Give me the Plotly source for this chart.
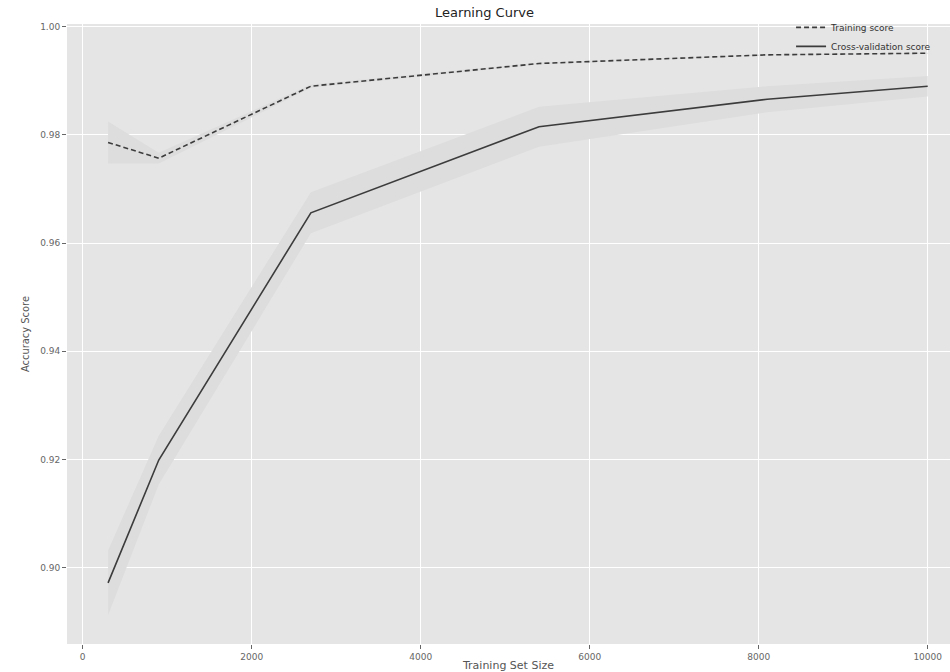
import plotly.graph_objects as go

# ---- data ----
train_sizes = [300, 900, 2700, 5400, 8100, 10000]
train_mean = [0.9786, 0.9757, 0.9890, 0.9932, 0.9948, 0.9951]
train_std = [0.0039, 0.0010, 0.0003, 0.0002, 0.0001, 0.0001]
cv_mean = [0.8972, 0.9199, 0.9656, 0.9815, 0.9866, 0.9890]
cv_std = [0.0060, 0.0045, 0.0038, 0.0037, 0.0024, 0.0019]

x_ticks = [0, 2000, 4000, 6000, 8000, 10000]
y_ticks = [0.90, 0.92, 0.94, 0.96, 0.98, 1.00]

BAND = "#DDDDDD"
LINE = "#3c3c3c"


def band(x, m, s):
    upper = [a + b for a, b in zip(m, s)]
    lower = [a - b for a, b in zip(m, s)]
    return list(x) + list(x)[::-1], upper + lower[::-1]


fig = go.Figure()

bx, by = band(train_sizes, train_mean, train_std)
fig.add_trace(go.Scatter(x=bx, y=by, fill="toself", fillcolor=BAND,
                         line=dict(width=0), mode="lines",
                         showlegend=False, hoverinfo="skip"))
bx, by = band(train_sizes, cv_mean, cv_std)
fig.add_trace(go.Scatter(x=bx, y=by, fill="toself", fillcolor=BAND,
                         line=dict(width=0), mode="lines",
                         showlegend=False, hoverinfo="skip"))

fig.add_trace(go.Scatter(x=train_sizes, y=train_mean, mode="lines",
                         name="Training score",
                         line=dict(color=LINE, width=1.6, dash="5px,3px")))
fig.add_trace(go.Scatter(x=train_sizes, y=cv_mean, mode="lines",
                         name="Cross-validation score",
                         line=dict(color=LINE, width=1.6)))

axis_common = dict(
    showgrid=True, gridcolor="white", gridwidth=1,
    zeroline=False, showline=False,
    ticks="outside", ticklen=4, tickcolor="#666", tickwidth=1,
    tickfont=dict(family="DejaVu Sans", size=9, color="#666"),
)

fig.update_layout(
    width=950, height=672,
    margin=dict(l=67, r=0, t=24, b=28, autoexpand=False),
    paper_bgcolor="white",
    plot_bgcolor="#E5E5E5",
    font=dict(family="DejaVu Sans", color="#333"),
    title=dict(text="Learning Curve", x=0.51, xanchor="center",
               y=0.982, yanchor="middle",
               font=dict(family="DejaVu Sans", size=13, color="#222")),
    xaxis=dict(range=[-186, 10264], tickvals=x_ticks,
               ticktext=[str(v) for v in x_ticks],
               title=dict(text="Training Set Size", standoff=2,
                          font=dict(family="DejaVu Sans", size=11, color="#555")),
               **axis_common),
    yaxis=dict(range=[0.8859, 1.0005], tickvals=y_ticks,
               ticktext=[f"{v:.2f}" for v in y_ticks],
               title=dict(text="Accuracy Score", standoff=8,
                          font=dict(family="DejaVu Sans Condensed", size=11, color="#555")),
               **axis_common),
    legend=dict(x=0.82, xanchor="left", y=1.018, yanchor="top",
                bgcolor="rgba(0,0,0,0)", borderwidth=0,
                font=dict(family="DejaVu Sans", size=9, color="#333"),
                tracegroupgap=0),
    showlegend=True,
)

fig.write_html(
    "out.html",
    config={"displayModeBar": False},
    post_script="document.body.style.margin='0';document.body.style.overflow='hidden';",
)
